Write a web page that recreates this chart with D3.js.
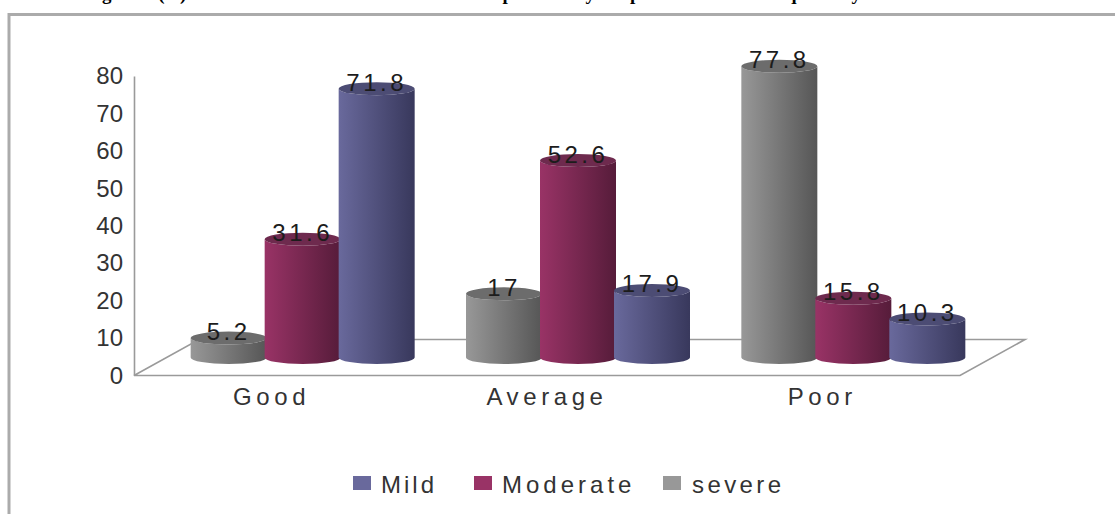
<!DOCTYPE html>
<html>
<head>
<meta charset="utf-8">
<script src="https://cdn.jsdelivr.net/npm/d3@7/dist/d3.min.js"></script>
<style>
  html, body { margin: 0; padding: 0; background: #fff; overflow: hidden; }
  svg { display: block; }
  text { font-family: "Liberation Sans", Arial, sans-serif; fill: #333; }
</style>
</head>
<body>
<svg id="chart" width="1115" height="514"></svg>
<script>
// Chart data
const categories = ["Good", "Average", "Poor"];
const seriesNames = ["severe", "Moderate", "Mild"];
const severeValues = [5.2, 17, 77.8];
const moderateValues = [31.6, 52.6, 15.8];
const mildValues = [71.8, 17.9, 10.3];
const yTicks = [0, 10, 20, 30, 40, 50, 60, 70, 80];
const legendOrder = ["Mild", "Moderate", "severe"];
const titleParts = [
  ["Figure (4) the relation between the", 79],
  ["spasticity", 492],
  ["impact on the", 603],
  ["quality of life of the women.", 786]
];

const valuesBySeries = { severe: severeValues, Moderate: moderateValues, Mild: mildValues };

// Face colours: light edge, dark edge, top cap
const palette = {
  Mild: ["#69699c", "#38385c", "#4c4c74"],
  Moderate: ["#993366", "#561c3a", "#6e2a4e"],
  severe: ["#989898", "#565656", "#6c6c6c"]
};

const svg = d3.select("#chart");
const defs = svg.append("defs");
Object.entries(palette).forEach(([name, c]) => {
  const g = defs.append("linearGradient").attr("id", "cyl-" + name);
  g.append("stop").attr("offset", "0%").attr("stop-color", c[0]);
  g.append("stop").attr("offset", "100%").attr("stop-color", c[1]);
});

// Scales and floor perspective
const floorDepth = { x: 65, y: -36 };
const midDepth = { x: 31, y: -18 };
const y = d3.scaleLinear().domain([0, 80]).range([375.5, 76]);
const floorLeft = 134, floorRight = 960;
const x = d3.scaleBand().domain(categories)
  .range([floorLeft + midDepth.x, floorRight + midDepth.x]);
const inner = d3.scaleBand().domain(seriesNames).range([0, 222]);
const barRx = 38, barRy = 6.5;
const barCenter = (cat, s) =>
  x(cat) + x.bandwidth() / 2 - 111 + inner(s) + inner.bandwidth() / 2;

// Outer frame: only its left and top sides fall inside the page
svg.append("path")
  .attr("d", "M9,514V14.5H1115")
  .attr("fill", "none").attr("stroke", "#ababab").attr("stroke-width", 3);

// Caption, clipped by the top of the page
const title = svg.append("g");
titleParts.forEach(([t, px]) => {
  title.append("text").text(t)
    .attr("x", px).attr("y", 0)
    .style("font-family", '"Liberation Serif", serif')
    .style("font-weight", "bold").style("font-size", "19px")
    .style("letter-spacing", "3px").style("fill", "#000");
});

// Floor plane
svg.append("path")
  .attr("d", `M${floorLeft},${y(0)}L${floorLeft + floorDepth.x},${y(0) + floorDepth.y}` +
             `H${floorRight + floorDepth.x}L${floorRight},${y(0)}H${floorLeft}`)
  .attr("fill", "none").attr("stroke", "#9a9a9a").attr("stroke-width", 1.6);

// Value axis
const axis = svg.append("g").attr("transform", `translate(${floorLeft},0)`)
  .call(d3.axisLeft(y).tickValues(yTicks).tickSize(0).tickPadding(11));
axis.select(".domain").attr("stroke", "#9a9a9a").attr("stroke-width", 1.6);
axis.selectAll("text").style("font-size", "24px")
  .style("font-family", '"Liberation Sans", Arial, sans-serif')
  .attr("fill", "#333");

// Category labels
svg.selectAll(".cat").data(categories).join("text").attr("class", "cat")
  .text(d => d)
  .attr("x", d => x(d) + x.bandwidth() / 2 - 31)
  .attr("y", 405)
  .attr("text-anchor", "middle")
  .style("font-size", "24px").style("letter-spacing", "4.6px");

// Cylinders, drawn left to right so each one overlaps its neighbour
const rows = [];
categories.forEach((cat, i) => seriesNames.forEach(s => {
  rows.push({ cat, s, v: valuesBySeries[s][i] });
}));
const bars = svg.selectAll(".cyl").data(rows).join("g").attr("class", "cyl");
bars.append("path")
  .attr("fill", d => `url(#cyl-${d.s})`)
  .attr("d", d => {
    const cx = barCenter(d.cat, d.s);
    const top = y(d.v) + midDepth.y, base = y(0) + midDepth.y;
    const l = cx - barRx, r = cx + barRx;
    return `M${l},${top}V${base}A${barRx},${barRy} 0 0 0 ${r},${base}V${top}` +
           `A${barRx},${barRy} 0 0 1 ${l},${top}Z`;
  });
bars.append("ellipse")
  .attr("cx", d => barCenter(d.cat, d.s))
  .attr("cy", d => y(d.v) + midDepth.y)
  .attr("rx", barRx).attr("ry", barRy)
  .attr("fill", d => palette[d.s][2]);

// Value labels sit over the top caps
svg.selectAll(".val").data(rows).join("text").attr("class", "val")
  .text(d => d.v)
  .attr("x", d => barCenter(d.cat, d.s))
  .attr("y", d => y(d.v) + midDepth.y + 2)
  .attr("text-anchor", "middle")
  .style("font-size", "24px").style("letter-spacing", "3.5px")
  .style("fill", "#1c1c1c");

// Legend
const legendX = d3.scaleOrdinal().domain(legendOrder).range([353, 474, 663]);
const legendGap = { Mild: 28, Moderate: 28, severe: 29 };
const legendTrack = { Mild: 3, Moderate: 4, severe: 3.4 };
const legend = svg.selectAll(".leg").data(legendOrder).join("g").attr("class", "leg")
  .attr("transform", d => `translate(${legendX(d)},476)`);
legend.append("rect").attr("width", 18).attr("height", 14)
  .attr("fill", d => palette[d][0]);
legend.append("text").text(d => d)
  .attr("x", d => legendGap[d])
  .attr("y", 17)
  .style("font-size", "24px")
  .style("letter-spacing", d => legendTrack[d] + "px");
</script>
</body>
</html>
